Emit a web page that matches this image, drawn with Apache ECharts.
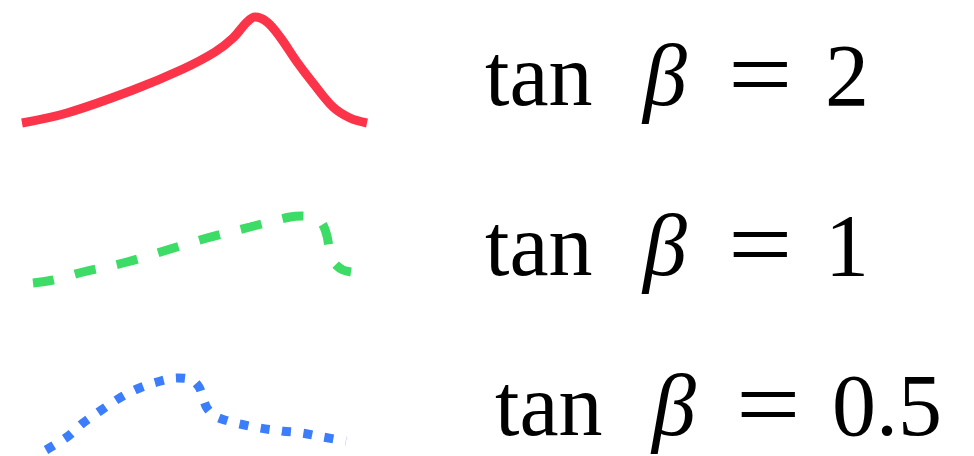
<!DOCTYPE html>
<html>
<head>
<meta charset="utf-8">
<script src="https://cdn.jsdelivr.net/npm/echarts@6/dist/echarts.min.js"></script>
<style>
  html, body { margin: 0; padding: 0; background: #fff; }
  #chart { width: 974px; height: 456px; }
</style>
</head>
<body>
<div id="chart"></div>
<script>
// Legend key curves, in plot units (x right, y down)
const redX   = [22, 67, 133, 183, 215, 233, 247, 255, 267, 280, 297, 313, 333, 350, 367];
const redY   = [123, 113, 90, 69, 52, 38, 22, 17, 22, 37, 62, 83, 107, 118, 123];

const greenX = [33, 53, 83, 127, 167, 207, 250, 290, 302, 312, 319, 324, 327, 329, 331, 336, 343, 351];
const greenY = [283, 280, 272, 262, 250, 238, 227, 217, 216, 217, 220, 227, 236, 247, 258, 265, 270, 272];

const blueX  = [46, 67, 83, 100, 118, 137, 157, 178, 192, 199, 203, 207, 215, 228, 240, 260, 282, 302, 323, 346];
const blueY  = [450, 437, 423, 411, 399, 389, 382, 378, 380, 387, 398, 408, 416, 421, 424, 428, 431, 433, 437, 441];

// tan β values shown next to each key
const tanBeta = ['2', '1', '0.5'];

const zip = (xs, ys) => xs.map((x, i) => [x, ys[i]]);

const chart = echarts.init(document.getElementById('chart'), null, { renderer: 'canvas' });

const fs = 88;
const font = '"Liberation Serif", "DejaVu Serif", serif';
function labelRow(x0, baseline, xBeta, xEq, xVal, val) {
  const y = baseline - 0.30 * fs;
  const base = { fontSize: fs, fontFamily: font, fill: '#000', verticalAlign: 'middle', align: 'left' };
  return [
    { type: 'text', x: x0, y: y, style: Object.assign({ text: 'tan' }, base) },
    { type: 'text', x: xBeta, y: y, style: Object.assign({ text: 'β', fontStyle: 'italic' }, base) },
    { type: 'text', x: xEq, y: y + 1, scaleX: 1.3, scaleY: 1.12, style: Object.assign({ text: '=' }, base) },
    { type: 'text', x: xVal, y: y, style: Object.assign({ text: val }, base) }
  ];
}

const option = {
  backgroundColor: '#ffffff',
  animation: false,
  grid: { left: 0, right: 0, top: 0, bottom: 0 },
  xAxis: { type: 'value', min: 0, max: 974, show: false },
  yAxis: { type: 'value', min: 0, max: 456, inverse: true, show: false },
  series: [
    {
      name: 'tan β = ' + tanBeta[0], type: 'line', smooth: 0.35, symbol: 'none',
      data: zip(redX, redY),
      lineStyle: { color: '#fb3449', width: 9, cap: 'butt', join: 'round' }
    },
    {
      name: 'tan β = ' + tanBeta[1], type: 'line', smooth: 0.35, symbol: 'none',
      data: zip(greenX, greenY),
      lineStyle: { color: '#3ddc66', width: 9, type: [21, 22], cap: 'butt' }
    },
    {
      name: 'tan β = ' + tanBeta[2], type: 'line', smooth: 0.35, symbol: 'none',
      data: zip(blueX, blueY),
      lineStyle: { color: '#3b7dfb', width: 9, type: [9, 12.5], cap: 'butt' }
    }
  ],
  graphic: [].concat(
    labelRow(485, 108, 643, 728, 825, tanBeta[0]),
    labelRow(485, 278, 643, 728, 825, tanBeta[1]),
    labelRow(495, 438, 652, 736, 832, tanBeta[2])
  )
};

chart.setOption(option);
</script>
</body>
</html>
